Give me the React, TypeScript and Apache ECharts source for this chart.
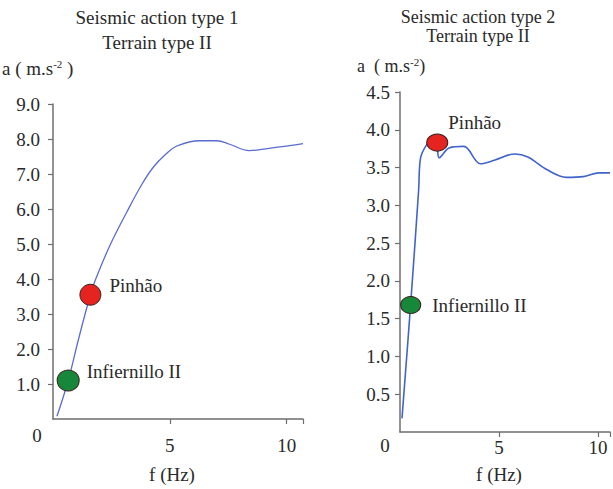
import React, { useEffect, useRef } from "react";
import * as echarts from "echarts";

// ---- Data ----
const leftTitle = ["Seismic action type 1", "Terrain type II"];
const rightTitle = ["Seismic action type 2", "Terrain type II"];

// Left panel: seismic action type 1 (f in Hz, a in m.s-2)
const leftFreq = [0.17, 0.65, 1.1, 1.6, 1.8, 2.43, 3.15, 3.8, 4.3, 4.8, 5.3, 6.28, 7.0, 7.56, 8.4, 9.1, 9.8, 10.7];
const leftAcc = [0.08, 1.1, 2.3, 3.55, 3.95, 4.95, 5.9, 6.7, 7.2, 7.55, 7.8, 7.95, 7.95, 7.85, 7.67, 7.72, 7.78, 7.87];

// Right panel: seismic action type 2
const rightFreq = [0.1, 0.54, 0.94, 1.04, 1.34, 1.6, 1.85, 1.98, 2.48, 3.22, 4.06, 4.8, 5.8, 6.45, 7.43, 8.4, 9.25, 10.05, 10.6];
const rightAcc = [0.18, 1.7, 3.2, 3.63, 3.8, 3.86, 3.8, 3.63, 3.76, 3.78, 3.55, 3.6, 3.68, 3.64, 3.47, 3.37, 3.38, 3.43, 3.43];

// Dams
const damNames = ["Infiernillo II", "Pinhão"];
const leftDamFreq = [0.65, 1.6];
const leftDamAcc = [1.1, 3.55];
const rightDamFreq = [0.54, 1.88];
const rightDamAcc = [1.68, 3.83];
const damColors = ["#17873a", "#e5231f"];

const xTicks = [0, 5, 10];
const leftYMax = 9;
const rightYMax = 4.5;

const FONT = "Liberation Serif, Times New Roman, serif";
const TXT = "#2a2a2a";
const AX = "#6e6e6e";

export default function App() {
  const ref = useRef<HTMLDivElement>(null);

  useEffect(() => {
    if (!ref.current) return;
    const chart = echarts.init(ref.current, undefined, { renderer: "svg" });

    const axisCommon = {
      axisLine: { show: true, lineStyle: { color: AX, width: 1.5 } },
      axisTick: { show: true, length: 5, lineStyle: { color: AX, width: 1.2 } },
      splitLine: { show: false },
    };

    const xAxisFor = (gridIndex: number, max: number, margin: number, gap: number) => ({
      type: "value",
      gridIndex,
      min: 0,
      max,
      interval: 5,
      ...axisCommon,
      axisLabel: {
        showMinLabel: false,
        showMaxLabel: true,
        margin,
        fontFamily: FONT,
        fontSize: 19,
        color: TXT,
        formatter: (v: number) => (xTicks.includes(v) ? String(v) : ""),
      },
      name: "f (Hz)",
      nameLocation: "middle",
      nameGap: gap,
      nameTextStyle: { fontFamily: FONT, fontSize: 19, color: TXT, padding: [0, 12, 0, 0] },
    });

    const yAxisFor = (gridIndex: number, max: number, interval: number, margin: number) => ({
      type: "value",
      gridIndex,
      min: 0,
      max,
      interval,
      ...axisCommon,
      axisLabel: {
        showMinLabel: false,
        margin,
        fontFamily: FONT,
        fontSize: 19,
        color: TXT,
        formatter: (v: number) => v.toFixed(1),
      },
    });

    const damData = (fx: number[], ay: number[], offsets: number[][], sizes: number[][]) =>
      damNames.map((n, i) => ({
        name: n,
        value: [fx[i], ay[i]],
        symbolSize: sizes[i],
        itemStyle: { color: damColors[i], borderColor: "#3a2020", borderWidth: 1, opacity: 1 },
        label: { offset: offsets[i] },
      }));

    const labelStyle = {
      show: true,
      position: "right",
      distance: 0,
      formatter: "{b}",
      fontFamily: FONT,
      fontSize: 19,
      color: TXT,
    };

    const txt = (text: string, x: number, y: number, size: number, align = "center") => ({
      type: "text",
      x,
      y,
      style: { text, font: `${size}px ${FONT}`, fill: TXT, align, verticalAlign: "middle" },
    });

    const supRich = { s: { fontSize: 11, fontFamily: FONT, fill: TXT, verticalAlign: "top", padding: [0, 0, 9, 0] } };

    chart.setOption({
      animation: false,
      backgroundColor: "#ffffff",
      grid: [
        { left: 53, top: 104, width: 250, height: 317 },
        { left: 400, top: 92, width: 213, height: 342 },
      ],
      xAxis: [xAxisFor(0, 10.7, 17, 46), xAxisFor(1, 10.6, 6, 33)],
      yAxis: [yAxisFor(0, leftYMax, 1, 13), yAxisFor(1, rightYMax, 0.5, 10)],
      series: [
        {
          type: "line",
          xAxisIndex: 0,
          yAxisIndex: 0,
          data: leftFreq.map((f, i) => [f, leftAcc[i]]),
          smooth: 0.4,
          symbol: "none",
          lineStyle: { color: "#5a6cd0", width: 1.3 },
        },
        {
          type: "line",
          xAxisIndex: 1,
          yAxisIndex: 1,
          data: rightFreq.map((f, i) => [f, rightAcc[i]]),
          smooth: 0.35,
          symbol: "none",
          lineStyle: { color: "#4063cc", width: 1.6 },
        },
        {
          type: "scatter",
          xAxisIndex: 0,
          yAxisIndex: 0,
          symbol: "circle",
          data: damData(leftDamFreq, leftDamAcc, [[7, -9], [8, -9]], [[22, 21], [21, 21]]),
          label: labelStyle,
          z: 5,
        },
        {
          type: "scatter",
          xAxisIndex: 1,
          yAxisIndex: 1,
          symbol: "circle",
          data: damData(rightDamFreq, rightDamAcc, [[11, 0], [0, -20]], [[20, 17], [21, 17]]),
          label: labelStyle,
          z: 5,
        },
      ],
      graphic: [
        txt(leftTitle[0], 157, 17, 19),
        txt(leftTitle[1], 157, 42, 19),
        txt(rightTitle[0], 478, 17, 18),
        txt(rightTitle[1], 478, 36, 18),
        {
          type: "text",
          x: 2,
          y: 68,
          style: { text: "a ( m.s{s|-2} )", font: `19px ${FONT}`, fill: TXT, verticalAlign: "middle", rich: supRich },
        },
        {
          type: "text",
          x: 357,
          y: 66,
          style: { text: "a  ( m.s{s|-2})", font: `18px ${FONT}`, fill: TXT, verticalAlign: "middle", rich: supRich },
        },
        txt("0", 37, 435, 19),
        txt("0", 385, 445, 19),
      ],
    });

    return () => chart.dispose();
  }, []);

  return (
    <div
      ref={ref}
      style={{ position: "absolute", left: 0, top: 0, width: 613, height: 489 }}
    />
  );
}
